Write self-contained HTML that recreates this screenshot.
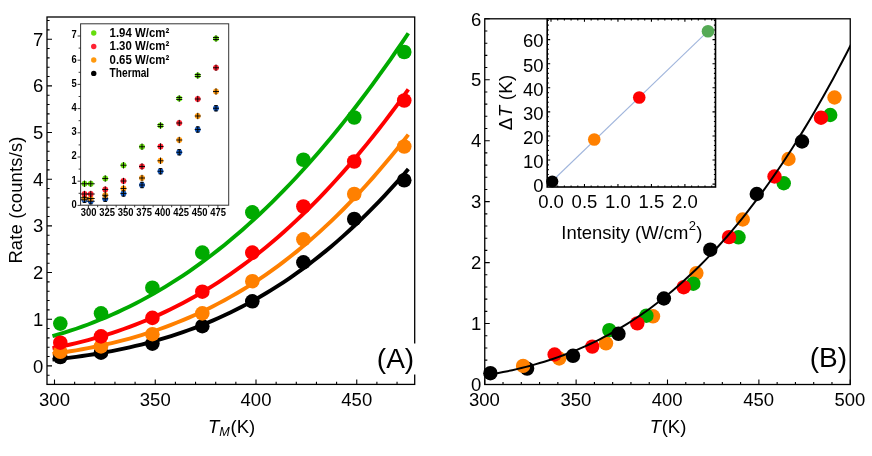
<!DOCTYPE html>
<html><head><meta charset="utf-8"><title>Rate vs temperature</title>
<style>
html,body{margin:0;padding:0;background:#fff;}
svg{display:block;will-change:transform;}
text{font-family:"Liberation Sans",sans-serif;fill:#000;}
.b{font-weight:bold;}
.i{font-style:italic;}
</style></head><body>
<svg width="872" height="456" viewBox="0 0 872 456">
<rect x="0" y="0" width="872" height="456" fill="#fff"/>

<g id="panelA">
<path d="M52.48,359.65 L58.42,359.02 L64.35,358.34 L70.28,357.62 L76.21,356.84 L82.14,356.02 L88.07,355.14 L94.00,354.21 L99.93,353.22 L105.86,352.18 L111.79,351.07 L117.72,349.89 L123.65,348.65 L129.59,347.35 L135.52,345.97 L141.45,344.52 L147.38,342.99 L153.31,341.39 L159.24,339.71 L165.17,337.94 L171.10,336.10 L177.03,334.16 L182.96,332.14 L188.89,330.02 L194.82,327.82 L200.76,325.51 L206.69,323.11 L212.62,320.61 L218.55,318.01 L224.48,315.30 L230.41,312.49 L236.34,309.57 L242.27,306.54 L248.20,303.39 L254.13,300.14 L260.06,296.76 L265.99,293.26 L271.93,289.65 L277.86,285.91 L283.79,282.05 L289.72,278.06 L295.65,273.94 L301.58,269.69 L307.51,265.31 L313.44,260.79 L319.37,256.14 L325.30,251.36 L331.23,246.43 L337.16,241.36 L343.10,236.15 L349.03,230.80 L354.96,225.30 L360.89,219.66 L366.82,213.87 L372.75,207.92 L378.68,201.83 L384.61,195.58 L390.54,189.18 L396.47,182.63 L402.40,175.92 L408.33,169.05" fill="none" stroke="#000000" stroke-width="3.9" stroke-linecap="butt" stroke-linejoin="round"/>
<path d="M52.48,353.88 L58.42,353.07 L64.35,352.20 L70.28,351.28 L76.21,350.30 L82.14,349.27 L88.07,348.16 L94.00,347.00 L99.93,345.76 L105.86,344.46 L111.79,343.09 L117.72,341.64 L123.65,340.11 L129.59,338.51 L135.52,336.82 L141.45,335.05 L147.38,333.20 L153.31,331.25 L159.24,329.22 L165.17,327.09 L171.10,324.87 L177.03,322.55 L182.96,320.13 L188.89,317.61 L194.82,314.98 L200.76,312.25 L206.69,309.41 L212.62,306.45 L218.55,303.39 L224.48,300.21 L230.41,296.91 L236.34,293.50 L242.27,289.96 L248.20,286.30 L254.13,282.51 L260.06,278.60 L265.99,274.56 L271.93,270.38 L277.86,266.08 L283.79,261.64 L289.72,257.07 L295.65,252.35 L301.58,247.50 L307.51,242.51 L313.44,237.37 L319.37,232.09 L325.30,226.66 L331.23,221.09 L337.16,215.37 L343.10,209.50 L349.03,203.47 L354.96,197.30 L360.89,190.97 L366.82,184.48 L372.75,177.84 L378.68,171.05 L384.61,164.09 L390.54,156.98 L396.47,149.70 L402.40,142.26 L408.33,134.66" fill="none" stroke="#ff8000" stroke-width="3.9" stroke-linecap="butt" stroke-linejoin="round"/>
<path d="M52.48,348.27 L58.42,347.09 L64.35,345.83 L70.28,344.51 L76.21,343.11 L82.14,341.64 L88.07,340.09 L94.00,338.46 L99.93,336.74 L105.86,334.95 L111.79,333.06 L117.72,331.09 L123.65,329.03 L129.59,326.88 L135.52,324.63 L141.45,322.28 L147.38,319.83 L153.31,317.29 L159.24,314.64 L165.17,311.88 L171.10,309.02 L177.03,306.05 L182.96,302.97 L188.89,299.77 L194.82,296.46 L200.76,293.03 L206.69,289.49 L212.62,285.83 L218.55,282.04 L224.48,278.14 L230.41,274.10 L236.34,269.95 L242.27,265.66 L248.20,261.25 L254.13,256.70 L260.06,252.03 L265.99,247.22 L271.93,242.28 L277.86,237.20 L283.79,231.99 L289.72,226.64 L295.65,221.15 L301.58,215.52 L307.51,209.75 L313.44,203.83 L319.37,197.78 L325.30,191.58 L331.23,185.24 L337.16,178.76 L343.10,172.13 L349.03,165.35 L354.96,158.42 L360.89,151.35 L366.82,144.13 L372.75,136.76 L378.68,129.25 L384.61,121.58 L390.54,113.77 L396.47,105.80 L402.40,97.68 L408.33,89.42" fill="none" stroke="#ff0000" stroke-width="3.9" stroke-linecap="butt" stroke-linejoin="round"/>
<path d="M52.48,336.20 L58.42,334.46 L64.35,332.64 L70.28,330.73 L76.21,328.73 L82.14,326.64 L88.07,324.46 L94.00,322.18 L99.93,319.81 L105.86,317.34 L111.79,314.77 L117.72,312.10 L123.65,309.32 L129.59,306.44 L135.52,303.46 L141.45,300.36 L147.38,297.15 L153.31,293.84 L159.24,290.41 L165.17,286.87 L171.10,283.21 L177.03,279.43 L182.96,275.54 L188.89,271.53 L194.82,267.40 L200.76,263.15 L206.69,258.77 L212.62,254.27 L218.55,249.65 L224.48,244.91 L230.41,240.04 L236.34,235.04 L242.27,229.91 L248.20,224.66 L254.13,219.28 L260.06,213.77 L265.99,208.13 L271.93,202.36 L277.86,196.46 L283.79,190.43 L289.72,184.27 L295.65,177.97 L301.58,171.55 L307.51,164.99 L313.44,158.30 L319.37,151.48 L325.30,144.52 L331.23,137.43 L337.16,130.21 L343.10,122.86 L349.03,115.38 L354.96,107.76 L360.89,100.01 L366.82,92.12 L372.75,84.11 L378.68,75.96 L384.61,67.68 L390.54,59.27 L396.47,50.73 L402.40,42.06 L408.33,33.26" fill="none" stroke="#00aa00" stroke-width="3.9" stroke-linecap="butt" stroke-linejoin="round"/>
<circle cx="60.30" cy="357.00" r="7.3" fill="#000000"/>
<circle cx="101.00" cy="352.70" r="7.3" fill="#000000"/>
<circle cx="152.40" cy="343.60" r="7.3" fill="#000000"/>
<circle cx="202.30" cy="326.20" r="7.3" fill="#000000"/>
<circle cx="252.30" cy="301.30" r="7.3" fill="#000000"/>
<circle cx="303.40" cy="262.40" r="7.3" fill="#000000"/>
<circle cx="354.25" cy="219.00" r="7.3" fill="#000000"/>
<circle cx="404.25" cy="180.25" r="7.3" fill="#000000"/>
<circle cx="60.30" cy="351.80" r="7.3" fill="#ff8000"/>
<circle cx="101.00" cy="346.40" r="7.3" fill="#ff8000"/>
<circle cx="152.40" cy="334.20" r="7.3" fill="#ff8000"/>
<circle cx="202.30" cy="313.40" r="7.3" fill="#ff8000"/>
<circle cx="252.30" cy="281.20" r="7.3" fill="#ff8000"/>
<circle cx="303.40" cy="239.40" r="7.3" fill="#ff8000"/>
<circle cx="354.25" cy="194.00" r="7.3" fill="#ff8000"/>
<circle cx="404.25" cy="146.50" r="7.3" fill="#ff8000"/>
<circle cx="60.30" cy="342.70" r="7.3" fill="#ff0000"/>
<circle cx="101.00" cy="336.40" r="7.3" fill="#ff0000"/>
<circle cx="152.40" cy="317.90" r="7.3" fill="#ff0000"/>
<circle cx="202.30" cy="291.70" r="7.3" fill="#ff0000"/>
<circle cx="252.30" cy="252.60" r="7.3" fill="#ff0000"/>
<circle cx="303.40" cy="206.50" r="7.3" fill="#ff0000"/>
<circle cx="354.25" cy="161.50" r="7.3" fill="#ff0000"/>
<circle cx="404.25" cy="100.50" r="7.3" fill="#ff0000"/>
<circle cx="60.30" cy="323.60" r="7.3" fill="#00aa00"/>
<circle cx="101.00" cy="313.30" r="7.3" fill="#00aa00"/>
<circle cx="152.40" cy="287.70" r="7.3" fill="#00aa00"/>
<circle cx="202.30" cy="252.60" r="7.3" fill="#00aa00"/>
<circle cx="252.30" cy="212.40" r="7.3" fill="#00aa00"/>
<circle cx="303.40" cy="159.75" r="7.3" fill="#00aa00"/>
<circle cx="354.25" cy="117.50" r="7.3" fill="#00aa00"/>
<circle cx="404.25" cy="52.00" r="7.3" fill="#00aa00"/>
<rect x="47.00" y="17.00" width="367.70" height="367.40" fill="none" stroke="#000" stroke-width="1.3"/>
<path d="M54.50,384.40 v-5.00 M74.65,384.40 v-2.60 M94.80,384.40 v-2.60 M114.95,384.40 v-2.60 M135.10,384.40 v-2.60 M155.25,384.40 v-5.00 M175.40,384.40 v-2.60 M195.55,384.40 v-2.60 M215.70,384.40 v-2.60 M235.85,384.40 v-2.60 M256.00,384.40 v-5.00 M276.15,384.40 v-2.60 M296.30,384.40 v-2.60 M316.45,384.40 v-2.60 M336.60,384.40 v-2.60 M356.75,384.40 v-5.00 M376.90,384.40 v-2.60 M397.05,384.40 v-2.60 M47.00,375.23 h2.60 M47.00,365.90 h5.00 M47.00,356.57 h2.60 M47.00,347.23 h2.60 M47.00,337.90 h2.60 M47.00,328.56 h2.60 M47.00,319.23 h5.00 M47.00,309.90 h2.60 M47.00,300.56 h2.60 M47.00,291.23 h2.60 M47.00,281.89 h2.60 M47.00,272.56 h5.00 M47.00,263.23 h2.60 M47.00,253.89 h2.60 M47.00,244.56 h2.60 M47.00,235.22 h2.60 M47.00,225.89 h5.00 M47.00,216.56 h2.60 M47.00,207.22 h2.60 M47.00,197.89 h2.60 M47.00,188.55 h2.60 M47.00,179.22 h5.00 M47.00,169.89 h2.60 M47.00,160.55 h2.60 M47.00,151.22 h2.60 M47.00,141.88 h2.60 M47.00,132.55 h5.00 M47.00,123.22 h2.60 M47.00,113.88 h2.60 M47.00,104.55 h2.60 M47.00,95.21 h2.60 M47.00,85.88 h5.00 M47.00,76.55 h2.60 M47.00,67.21 h2.60 M47.00,57.88 h2.60 M47.00,48.54 h2.60 M47.00,39.21 h5.00 M47.00,29.88 h2.60 M47.00,20.54 h2.60" fill="none" stroke="#000" stroke-width="1.1"/>
<text x="54.50" y="405.7" font-size="18.5" text-anchor="middle">300</text>
<text x="155.25" y="405.7" font-size="18.5" text-anchor="middle">350</text>
<text x="256.00" y="405.7" font-size="18.5" text-anchor="middle">400</text>
<text x="356.75" y="405.7" font-size="18.5" text-anchor="middle">450</text>
<text x="43.2" y="372.50" font-size="18.5" text-anchor="end">0</text>
<text x="43.2" y="325.83" font-size="18.5" text-anchor="end">1</text>
<text x="43.2" y="279.16" font-size="18.5" text-anchor="end">2</text>
<text x="43.2" y="232.49" font-size="18.5" text-anchor="end">3</text>
<text x="43.2" y="185.82" font-size="18.5" text-anchor="end">4</text>
<text x="43.2" y="139.15" font-size="18.5" text-anchor="end">5</text>
<text x="43.2" y="92.48" font-size="18.5" text-anchor="end">6</text>
<text x="43.2" y="45.81" font-size="18.5" text-anchor="end">7</text>
<rect x="376" y="343.5" width="44" height="31" fill="#fff"/>
<text x="395.5" y="368.3" font-size="28" text-anchor="middle">(A)</text>
<text x="207.9" y="433.2" font-size="18.5"><tspan class="i">T</tspan><tspan class="i" font-size="12.6" dy="3">M</tspan><tspan dy="-3" dx="0.9">(K)</tspan></text>
<text transform="translate(22.0,200.1) rotate(-90)" font-size="18.4" text-anchor="middle" textLength="127" lengthAdjust="spacing">Rate (counts/s)</text>
<g id="insetA" filter="url(#bl)">
<rect x="80.60" y="23.80" width="148.10" height="181.40" fill="#fff" stroke="#333" stroke-width="1"/>
<circle cx="84.50" cy="199.75" r="2.9" fill="#1155bb"/>
<circle cx="90.75" cy="201.25" r="2.9" fill="#1155bb"/>
<circle cx="105.25" cy="198.75" r="2.9" fill="#1155bb"/>
<circle cx="123.50" cy="193.50" r="2.9" fill="#1155bb"/>
<circle cx="142.00" cy="185.00" r="2.9" fill="#1155bb"/>
<circle cx="160.50" cy="171.25" r="2.9" fill="#1155bb"/>
<circle cx="179.25" cy="152.25" r="2.9" fill="#1155bb"/>
<circle cx="197.75" cy="129.50" r="2.9" fill="#1155bb"/>
<circle cx="216.00" cy="108.25" r="2.9" fill="#1155bb"/>
<circle cx="84.50" cy="197.75" r="2.9" fill="#ff9911"/>
<circle cx="90.75" cy="198.50" r="2.9" fill="#ff9911"/>
<circle cx="105.25" cy="195.25" r="2.9" fill="#ff9911"/>
<circle cx="123.50" cy="188.50" r="2.9" fill="#ff9911"/>
<circle cx="142.00" cy="178.00" r="2.9" fill="#ff9911"/>
<circle cx="160.50" cy="160.75" r="2.9" fill="#ff9911"/>
<circle cx="179.25" cy="140.00" r="2.9" fill="#ff9911"/>
<circle cx="197.75" cy="116.00" r="2.9" fill="#ff9911"/>
<circle cx="216.00" cy="91.50" r="2.9" fill="#ff9911"/>
<circle cx="84.50" cy="194.00" r="2.9" fill="#ff2233"/>
<circle cx="90.75" cy="194.00" r="2.9" fill="#ff2233"/>
<circle cx="105.25" cy="189.50" r="2.9" fill="#ff2233"/>
<circle cx="123.50" cy="181.00" r="2.9" fill="#ff2233"/>
<circle cx="142.00" cy="166.50" r="2.9" fill="#ff2233"/>
<circle cx="160.50" cy="146.50" r="2.9" fill="#ff2233"/>
<circle cx="179.25" cy="123.00" r="2.9" fill="#ff2233"/>
<circle cx="197.75" cy="99.00" r="2.9" fill="#ff2233"/>
<circle cx="216.00" cy="67.75" r="2.9" fill="#ff2233"/>
<circle cx="84.50" cy="183.75" r="2.9" fill="#66dd11"/>
<circle cx="90.75" cy="183.75" r="2.9" fill="#66dd11"/>
<circle cx="105.25" cy="178.50" r="2.9" fill="#66dd11"/>
<circle cx="123.50" cy="165.25" r="2.9" fill="#66dd11"/>
<circle cx="142.00" cy="146.75" r="2.9" fill="#66dd11"/>
<circle cx="160.50" cy="125.50" r="2.9" fill="#66dd11"/>
<circle cx="179.25" cy="98.50" r="2.9" fill="#66dd11"/>
<circle cx="197.75" cy="75.50" r="2.9" fill="#66dd11"/>
<circle cx="216.00" cy="38.50" r="2.9" fill="#66dd11"/>
<path d="M84.50,196.55 v6.4 M80.50,199.75 h8.0 M82.70,197.05 h3.6 M82.70,202.45 h3.6 M90.75,198.05 v6.4 M86.75,201.25 h8.0 M88.95,198.55 h3.6 M88.95,203.95 h3.6 M105.25,195.55 v6.4 M102.25,198.75 h6.0 M103.45,196.05 h3.6 M103.45,201.45 h3.6 M123.50,190.30 v6.4 M120.50,193.50 h6.0 M121.70,190.80 h3.6 M121.70,196.20 h3.6 M142.00,181.80 v6.4 M139.00,185.00 h6.0 M140.20,182.30 h3.6 M140.20,187.70 h3.6 M160.50,168.05 v6.4 M157.50,171.25 h6.0 M158.70,168.55 h3.6 M158.70,173.95 h3.6 M179.25,149.05 v6.4 M176.25,152.25 h6.0 M177.45,149.55 h3.6 M177.45,154.95 h3.6 M197.75,126.30 v6.4 M194.75,129.50 h6.0 M195.95,126.80 h3.6 M195.95,132.20 h3.6 M216.00,105.05 v6.4 M213.00,108.25 h6.0 M214.20,105.55 h3.6 M214.20,110.95 h3.6 M84.50,194.55 v6.4 M80.50,197.75 h8.0 M90.75,195.30 v6.4 M86.75,198.50 h8.0 M105.25,192.05 v6.4 M102.25,195.25 h6.0 M123.50,185.30 v6.4 M120.50,188.50 h6.0 M142.00,174.80 v6.4 M139.00,178.00 h6.0 M160.50,157.55 v6.4 M157.50,160.75 h6.0 M179.25,136.80 v6.4 M176.25,140.00 h6.0 M197.75,112.80 v6.4 M194.75,116.00 h6.0 M216.00,88.30 v6.4 M213.00,91.50 h6.0 M84.50,190.80 v6.4 M80.50,194.00 h8.0 M90.75,190.80 v6.4 M86.75,194.00 h8.0 M105.25,186.30 v6.4 M102.25,189.50 h6.0 M123.50,177.80 v6.4 M120.50,181.00 h6.0 M142.00,163.30 v6.4 M139.00,166.50 h6.0 M160.50,143.30 v6.4 M157.50,146.50 h6.0 M179.25,119.80 v6.4 M176.25,123.00 h6.0 M197.75,95.80 v6.4 M194.75,99.00 h6.0 M216.00,64.55 v6.4 M213.00,67.75 h6.0 M84.50,180.55 v6.4 M80.50,183.75 h8.0 M90.75,180.55 v6.4 M86.75,183.75 h8.0 M105.25,175.30 v6.4 M102.25,178.50 h6.0 M123.50,162.05 v6.4 M120.50,165.25 h6.0 M142.00,143.55 v6.4 M139.00,146.75 h6.0 M160.50,122.30 v6.4 M157.50,124.50 h6.0 M157.50,126.50 h6.0 M179.25,95.30 v6.4 M176.25,97.50 h6.0 M176.25,99.50 h6.0 M197.75,72.30 v6.4 M194.75,74.50 h6.0 M194.75,76.50 h6.0 M216.00,35.30 v6.4 M213.00,37.50 h6.0 M213.00,39.50 h6.0" stroke="#000" stroke-width="0.9" fill="none"/>
<path d="M88.40,205.20 v3.00 M97.65,205.20 v2.00 M106.90,205.20 v3.00 M116.15,205.20 v2.00 M125.40,205.20 v3.00 M134.65,205.20 v2.00 M143.90,205.20 v3.00 M153.15,205.20 v2.00 M162.40,205.20 v3.00 M171.65,205.20 v2.00 M180.90,205.20 v3.00 M190.15,205.20 v2.00 M199.40,205.20 v3.00 M208.65,205.20 v2.00 M217.90,205.20 v3.00 M80.60,205.40 h-3.00 M80.60,193.30 h-2.00 M80.60,181.20 h-3.00 M80.60,169.10 h-2.00 M80.60,157.00 h-3.00 M80.60,144.90 h-2.00 M80.60,132.80 h-3.00 M80.60,120.70 h-2.00 M80.60,108.60 h-3.00 M80.60,96.50 h-2.00 M80.60,84.40 h-3.00 M80.60,72.30 h-2.00 M80.60,60.20 h-3.00 M80.60,48.10 h-2.00 M80.60,36.00 h-3.00" stroke="#222" stroke-width="0.9" fill="none"/>
<text class="b" x="88.70" y="215.6" font-size="10.4" text-anchor="middle" textLength="15.7" lengthAdjust="spacingAndGlyphs">300</text>
<text class="b" x="107.20" y="215.6" font-size="10.4" text-anchor="middle" textLength="15.7" lengthAdjust="spacingAndGlyphs">325</text>
<text class="b" x="125.70" y="215.6" font-size="10.4" text-anchor="middle" textLength="15.7" lengthAdjust="spacingAndGlyphs">350</text>
<text class="b" x="144.20" y="215.6" font-size="10.4" text-anchor="middle" textLength="15.7" lengthAdjust="spacingAndGlyphs">375</text>
<text class="b" x="162.70" y="215.6" font-size="10.4" text-anchor="middle" textLength="15.7" lengthAdjust="spacingAndGlyphs">400</text>
<text class="b" x="181.20" y="215.6" font-size="10.4" text-anchor="middle" textLength="15.7" lengthAdjust="spacingAndGlyphs">425</text>
<text class="b" x="199.70" y="215.6" font-size="10.4" text-anchor="middle" textLength="15.7" lengthAdjust="spacingAndGlyphs">450</text>
<text class="b" x="218.20" y="215.6" font-size="10.4" text-anchor="middle" textLength="15.7" lengthAdjust="spacingAndGlyphs">475</text>
<text class="b" x="76.6" y="207.70" font-size="10.4" text-anchor="end" textLength="5.2" lengthAdjust="spacingAndGlyphs">0</text>
<text class="b" x="76.6" y="183.50" font-size="10.4" text-anchor="end" textLength="5.2" lengthAdjust="spacingAndGlyphs">1</text>
<text class="b" x="76.6" y="159.30" font-size="10.4" text-anchor="end" textLength="5.2" lengthAdjust="spacingAndGlyphs">2</text>
<text class="b" x="76.6" y="135.10" font-size="10.4" text-anchor="end" textLength="5.2" lengthAdjust="spacingAndGlyphs">3</text>
<text class="b" x="76.6" y="110.90" font-size="10.4" text-anchor="end" textLength="5.2" lengthAdjust="spacingAndGlyphs">4</text>
<text class="b" x="76.6" y="86.70" font-size="10.4" text-anchor="end" textLength="5.2" lengthAdjust="spacingAndGlyphs">5</text>
<text class="b" x="76.6" y="62.50" font-size="10.4" text-anchor="end" textLength="5.2" lengthAdjust="spacingAndGlyphs">6</text>
<text class="b" x="76.6" y="38.30" font-size="10.4" text-anchor="end" textLength="5.2" lengthAdjust="spacingAndGlyphs">7</text>
<circle cx="93.75" cy="33.00" r="2.7" fill="#66dd11"/>
<text class="b" x="109.6" y="36.60" font-size="12.3" textLength="59.6" lengthAdjust="spacingAndGlyphs">1.94 W/cm²</text>
<circle cx="93.75" cy="46.47" r="2.7" fill="#ff2233"/>
<text class="b" x="109.6" y="50.07" font-size="12.3" textLength="59.6" lengthAdjust="spacingAndGlyphs">1.30 W/cm²</text>
<circle cx="93.75" cy="59.94" r="2.7" fill="#ff9911"/>
<text class="b" x="109.6" y="63.54" font-size="12.3" textLength="59.6" lengthAdjust="spacingAndGlyphs">0.65 W/cm²</text>
<circle cx="93.75" cy="73.41" r="2.7" fill="#000"/>
<text class="b" x="109.6" y="77.01" font-size="12.3" textLength="39.6" lengthAdjust="spacingAndGlyphs">Thermal</text>
</g>
</g>
<g id="panelB">
<circle cx="490.40" cy="373.20" r="7.2" fill="#000000"/>
<circle cx="527.10" cy="368.60" r="7.2" fill="#000000"/>
<circle cx="523.10" cy="365.90" r="7.2" fill="#ff8000"/>
<circle cx="559.20" cy="358.50" r="7.2" fill="#ff8000"/>
<circle cx="554.60" cy="354.50" r="7.2" fill="#ff0000"/>
<circle cx="573.00" cy="355.80" r="7.2" fill="#000000"/>
<circle cx="592.30" cy="346.60" r="7.2" fill="#ff0000"/>
<circle cx="606.00" cy="343.30" r="7.2" fill="#ff8000"/>
<circle cx="609.30" cy="330.10" r="7.2" fill="#00aa00"/>
<circle cx="618.50" cy="333.80" r="7.2" fill="#000000"/>
<circle cx="653.00" cy="316.30" r="7.2" fill="#ff8000"/>
<circle cx="646.40" cy="315.70" r="7.2" fill="#00aa00"/>
<circle cx="637.30" cy="323.40" r="7.2" fill="#ff0000"/>
<circle cx="663.90" cy="298.50" r="7.2" fill="#000000"/>
<circle cx="696.40" cy="273.10" r="7.2" fill="#ff8000"/>
<circle cx="693.30" cy="283.70" r="7.2" fill="#00aa00"/>
<circle cx="683.70" cy="287.20" r="7.2" fill="#ff0000"/>
<circle cx="710.30" cy="249.70" r="7.2" fill="#000000"/>
<circle cx="738.50" cy="237.30" r="7.2" fill="#00aa00"/>
<circle cx="729.00" cy="237.10" r="7.2" fill="#ff0000"/>
<circle cx="742.75" cy="219.50" r="7.2" fill="#ff8000"/>
<circle cx="756.75" cy="194.00" r="7.2" fill="#000000"/>
<circle cx="783.75" cy="183.25" r="7.2" fill="#00aa00"/>
<circle cx="774.50" cy="176.50" r="7.2" fill="#ff0000"/>
<circle cx="788.50" cy="159.00" r="7.2" fill="#ff8000"/>
<circle cx="802.00" cy="141.50" r="7.2" fill="#000000"/>
<circle cx="830.25" cy="115.00" r="7.2" fill="#00aa00"/>
<circle cx="821.00" cy="117.75" r="7.2" fill="#ff0000"/>
<circle cx="834.50" cy="97.50" r="7.2" fill="#ff8000"/>
<clipPath id="cb"><rect x="484.75" y="18.80" width="365.50" height="365.70"/></clipPath>
<path clip-path="url(#cb)" d="M484.75,375.40 L489.33,374.64 L493.91,373.84 L498.49,372.99 L503.07,372.10 L507.65,371.16 L512.23,370.17 L516.81,369.12 L521.39,368.03 L525.97,366.87 L530.55,365.67 L535.13,364.40 L539.71,363.07 L544.29,361.68 L548.87,360.23 L553.45,358.71 L558.03,357.13 L562.61,355.48 L567.19,353.75 L571.77,351.96 L576.35,350.08 L580.93,348.14 L585.51,346.11 L590.09,344.01 L594.67,341.83 L599.25,339.56 L603.83,337.21 L608.41,334.77 L612.99,332.25 L617.57,329.63 L622.16,326.93 L626.74,324.13 L631.32,321.24 L635.90,318.25 L640.48,315.16 L645.06,311.98 L649.64,308.69 L654.22,305.30 L658.80,301.81 L663.38,298.21 L667.96,294.51 L672.54,290.70 L677.12,286.77 L681.70,282.74 L686.28,278.59 L690.86,274.33 L695.44,269.96 L700.02,265.46 L704.60,260.85 L709.18,256.12 L713.76,251.27 L718.34,246.30 L722.92,241.20 L727.50,235.98 L732.08,230.64 L736.66,225.16 L741.24,219.56 L745.82,213.83 L750.40,207.97 L754.98,201.98 L759.56,195.86 L764.14,189.60 L768.72,183.21 L773.30,176.69 L777.88,170.02 L782.46,163.22 L787.04,156.29 L791.62,149.21 L796.20,142.00 L800.78,134.64 L805.36,127.14 L809.94,119.50 L814.52,111.72 L819.10,103.80 L823.68,95.73 L828.26,87.51 L832.84,79.15 L837.42,70.65 L842.00,61.99 L846.58,53.20 L851.16,44.25" fill="none" stroke="#000" stroke-width="2"/>
<rect x="484.75" y="18.80" width="365.50" height="365.70" fill="none" stroke="#000" stroke-width="1.3"/>
<path d="M484.75,384.50 v-5.00 M503.02,384.50 v-2.60 M521.30,384.50 v-2.60 M539.58,384.50 v-2.60 M557.85,384.50 v-2.60 M576.12,384.50 v-5.00 M594.40,384.50 v-2.60 M612.67,384.50 v-2.60 M630.95,384.50 v-2.60 M649.23,384.50 v-2.60 M667.50,384.50 v-5.00 M685.77,384.50 v-2.60 M704.05,384.50 v-2.60 M722.33,384.50 v-2.60 M740.60,384.50 v-2.60 M758.88,384.50 v-5.00 M777.15,384.50 v-2.60 M795.42,384.50 v-2.60 M813.70,384.50 v-2.60 M831.97,384.50 v-2.60 M850.25,384.50 v-5.00 M484.75,384.50 h5.00 M484.75,372.31 h2.60 M484.75,360.12 h2.60 M484.75,347.93 h2.60 M484.75,335.74 h2.60 M484.75,323.55 h5.00 M484.75,311.36 h2.60 M484.75,299.17 h2.60 M484.75,286.98 h2.60 M484.75,274.79 h2.60 M484.75,262.60 h5.00 M484.75,250.41 h2.60 M484.75,238.22 h2.60 M484.75,226.03 h2.60 M484.75,213.84 h2.60 M484.75,201.65 h5.00 M484.75,189.46 h2.60 M484.75,177.27 h2.60 M484.75,165.08 h2.60 M484.75,152.89 h2.60 M484.75,140.70 h5.00 M484.75,128.51 h2.60 M484.75,116.32 h2.60 M484.75,104.13 h2.60 M484.75,91.94 h2.60 M484.75,79.75 h5.00 M484.75,67.56 h2.60 M484.75,55.37 h2.60 M484.75,43.18 h2.60 M484.75,30.99 h2.60 M484.75,18.80 h5.00" fill="none" stroke="#000" stroke-width="1.1"/>
<text x="484.45" y="405.9" font-size="18.5" text-anchor="middle">300</text>
<text x="575.83" y="405.9" font-size="18.5" text-anchor="middle">350</text>
<text x="667.20" y="405.9" font-size="18.5" text-anchor="middle">400</text>
<text x="758.58" y="405.9" font-size="18.5" text-anchor="middle">450</text>
<text x="849.95" y="405.9" font-size="18.5" text-anchor="middle">500</text>
<text x="481.2" y="391.20" font-size="18.5" text-anchor="end">0</text>
<text x="481.2" y="330.25" font-size="18.5" text-anchor="end">1</text>
<text x="481.2" y="269.30" font-size="18.5" text-anchor="end">2</text>
<text x="481.2" y="208.35" font-size="18.5" text-anchor="end">3</text>
<text x="481.2" y="147.40" font-size="18.5" text-anchor="end">4</text>
<text x="481.2" y="86.45" font-size="18.5" text-anchor="end">5</text>
<text x="481.2" y="25.50" font-size="18.5" text-anchor="end">6</text>
<text x="828.4" y="366.7" font-size="28" text-anchor="middle">(B)</text>
<text x="649.7" y="433.2" font-size="18.5"><tspan class="i">T</tspan><tspan dx="0.7">(K)</tspan></text>
<rect x="547.20" y="18.80" width="168.30" height="168.20" fill="#fff" stroke="#000" stroke-width="1.6"/>
<path d="M551.00,187.00 v-3.00 M551.00,18.80 v3.00 M557.70,187.00 v-1.60 M557.70,18.80 v1.60 M564.39,187.00 v-1.60 M564.39,18.80 v1.60 M571.09,187.00 v-1.60 M571.09,18.80 v1.60 M577.78,187.00 v-1.60 M577.78,18.80 v1.60 M584.48,187.00 v-3.00 M584.48,18.80 v3.00 M591.17,187.00 v-1.60 M591.17,18.80 v1.60 M597.87,187.00 v-1.60 M597.87,18.80 v1.60 M604.56,187.00 v-1.60 M604.56,18.80 v1.60 M611.25,187.00 v-1.60 M611.25,18.80 v1.60 M617.95,187.00 v-3.00 M617.95,18.80 v3.00 M624.64,187.00 v-1.60 M624.64,18.80 v1.60 M631.34,187.00 v-1.60 M631.34,18.80 v1.60 M638.03,187.00 v-1.60 M638.03,18.80 v1.60 M644.73,187.00 v-1.60 M644.73,18.80 v1.60 M651.42,187.00 v-3.00 M651.42,18.80 v3.00 M658.12,187.00 v-1.60 M658.12,18.80 v1.60 M664.82,187.00 v-1.60 M664.82,18.80 v1.60 M671.51,187.00 v-1.60 M671.51,18.80 v1.60 M678.21,187.00 v-1.60 M678.21,18.80 v1.60 M684.90,187.00 v-3.00 M684.90,18.80 v3.00 M691.60,187.00 v-1.60 M691.60,18.80 v1.60 M698.29,187.00 v-1.60 M698.29,18.80 v1.60 M704.99,187.00 v-1.60 M704.99,18.80 v1.60 M711.68,187.00 v-1.60 M711.68,18.80 v1.60 M547.20,184.10 h3.00 M715.50,184.10 h-3.00 M547.20,179.28 h1.60 M715.50,179.28 h-1.60 M547.20,174.47 h1.60 M715.50,174.47 h-1.60 M547.20,169.65 h1.60 M715.50,169.65 h-1.60 M547.20,164.84 h1.60 M715.50,164.84 h-1.60 M547.20,160.02 h3.00 M715.50,160.02 h-3.00 M547.20,155.20 h1.60 M715.50,155.20 h-1.60 M547.20,150.39 h1.60 M715.50,150.39 h-1.60 M547.20,145.57 h1.60 M715.50,145.57 h-1.60 M547.20,140.76 h1.60 M715.50,140.76 h-1.60 M547.20,135.94 h3.00 M715.50,135.94 h-3.00 M547.20,131.12 h1.60 M715.50,131.12 h-1.60 M547.20,126.31 h1.60 M715.50,126.31 h-1.60 M547.20,121.49 h1.60 M715.50,121.49 h-1.60 M547.20,116.68 h1.60 M715.50,116.68 h-1.60 M547.20,111.86 h3.00 M715.50,111.86 h-3.00 M547.20,107.04 h1.60 M715.50,107.04 h-1.60 M547.20,102.23 h1.60 M715.50,102.23 h-1.60 M547.20,97.41 h1.60 M715.50,97.41 h-1.60 M547.20,92.60 h1.60 M715.50,92.60 h-1.60 M547.20,87.78 h3.00 M715.50,87.78 h-3.00 M547.20,82.96 h1.60 M715.50,82.96 h-1.60 M547.20,78.15 h1.60 M715.50,78.15 h-1.60 M547.20,73.33 h1.60 M715.50,73.33 h-1.60 M547.20,68.52 h1.60 M715.50,68.52 h-1.60 M547.20,63.70 h3.00 M715.50,63.70 h-3.00 M547.20,58.88 h1.60 M715.50,58.88 h-1.60 M547.20,54.07 h1.60 M715.50,54.07 h-1.60 M547.20,49.25 h1.60 M715.50,49.25 h-1.60 M547.20,44.44 h1.60 M715.50,44.44 h-1.60 M547.20,39.62 h3.00 M715.50,39.62 h-3.00 M547.20,34.80 h1.60 M715.50,34.80 h-1.60 M547.20,29.99 h1.60 M715.50,29.99 h-1.60 M547.20,25.17 h1.60 M715.50,25.17 h-1.60 M547.20,20.36 h1.60 M715.50,20.36 h-1.60" fill="none" stroke="#000" stroke-width="1.1"/>
<path d="M552.25,181 L708,31.2" stroke="#a0b5dc" stroke-width="1.05" fill="none"/>
<circle cx="552.25" cy="181.5" r="6.1" fill="#000"/>
<circle cx="594.25" cy="139.5" r="6.3" fill="#ff8000"/>
<circle cx="639.25" cy="97.5" r="6.3" fill="#ff0000"/>
<circle cx="708" cy="31.2" r="6.3" fill="#55aa55"/>
<text x="543.5" y="191.90" font-size="18.5" text-anchor="end">0</text>
<text x="543.5" y="167.82" font-size="18.5" text-anchor="end">10</text>
<text x="543.5" y="143.74" font-size="18.5" text-anchor="end">20</text>
<text x="543.5" y="119.66" font-size="18.5" text-anchor="end">30</text>
<text x="543.5" y="95.58" font-size="18.5" text-anchor="end">40</text>
<text x="543.5" y="71.50" font-size="18.5" text-anchor="end">50</text>
<text x="543.5" y="47.42" font-size="18.5" text-anchor="end">60</text>
<text x="551.00" y="208.0" font-size="18.5" text-anchor="middle">0.0</text>
<text x="584.48" y="208.0" font-size="18.5" text-anchor="middle">0.5</text>
<text x="617.95" y="208.0" font-size="18.5" text-anchor="middle">1.0</text>
<text x="651.42" y="208.0" font-size="18.5" text-anchor="middle">1.5</text>
<text x="684.90" y="208.0" font-size="18.5" text-anchor="middle">2.0</text>
<text x="561.3" y="238.8" font-size="18.45">Intensity (W/cm<tspan font-size="13" dy="-8.4" dx="0.4">2</tspan><tspan dy="8.4" dx="0.3">)</tspan></text>
<text transform="translate(512.4,102.4) rotate(-90)" font-size="18.7" text-anchor="middle" textLength="55.5" lengthAdjust="spacing">Δ<tspan class="i">T</tspan> (K)</text>
</g>
<defs><filter id="bl" x="-5%" y="-5%" width="110%" height="110%"><feGaussianBlur stdDeviation="0.55"/></filter></defs>
</svg></body></html>
